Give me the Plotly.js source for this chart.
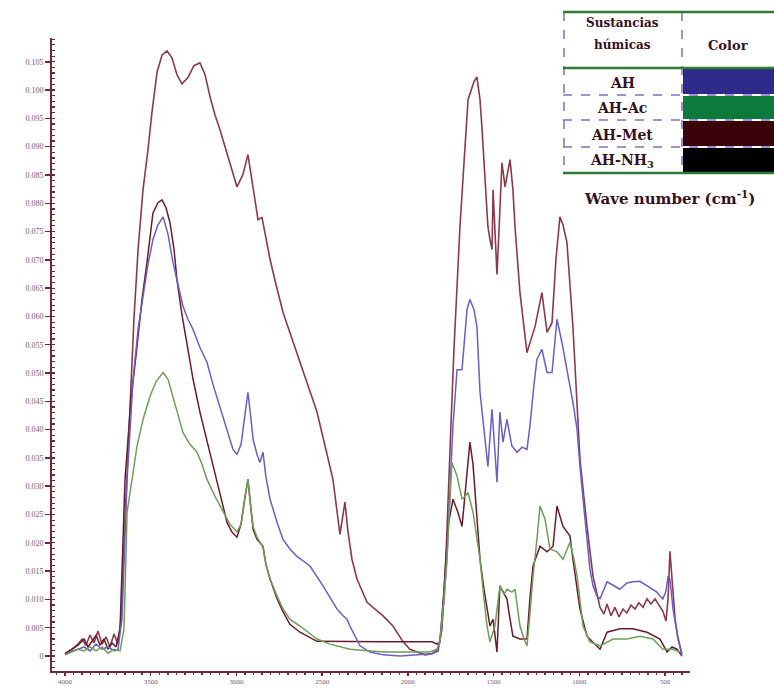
<!DOCTYPE html>
<html>
<head>
<meta charset="utf-8">
<script src="https://cdn.plot.ly/plotly-3.0.1.min.js"></script>
<style>
  html, body { margin: 0; padding: 0; background: #ffffff; }
  #chart { width: 774px; height: 689px; }
</style>
</head>
<body>
<div id="chart"></div>
<script>
// ---------- data (wavenumber cm^-1, absorbance) ----------
const wnAH = [4000,3959,3924,3889,3854,3819,3784,3749,3714,3691,3668,3638,3603,3574,3545,3516,3487,3458,3428,3399,3370,3341,3312,3283,3253,3213,3172,3137,3096,3055,3020,2997,2973,2950,2933,2915,2903,2880,2863,2845,2828,2804,2763,2728,2688,2647,2571,2495,2454,2413,2378,2355,2338,2308,2279,2221,2145,2046,1929,1859,1830,1813,1789,1772,1754,1737,1713,1684,1655,1638,1614,1597,1579,1556,1538,1533,1509,1498,1480,1463,1445,1422,1393,1363,1334,1305,1288,1264,1247,1218,1188,1159,1130,1101,1072,1037,1013,996,972,955,938,920,897,879,856,838,803,763,722,687,646,605,570,547,529,512,494,482,471,453,430,401];
const absAH = [0.0002,0.0009,0.0012,0.0016,0.0009,0.0021,0.0012,0.0016,0.0009,0.0012,0.0065,0.0312,0.0489,0.0577,0.0635,0.0692,0.0736,0.0762,0.0776,0.0745,0.0695,0.0656,0.0618,0.0595,0.0577,0.0545,0.0519,0.048,0.0441,0.0401,0.0365,0.0356,0.0374,0.0427,0.0466,0.0418,0.0383,0.0356,0.0342,0.036,0.0316,0.0277,0.0236,0.0206,0.0189,0.0176,0.0159,0.0124,0.0104,0.0083,0.0071,0.0065,0.0053,0.0034,0.0018,0.0007,0.0002,0,0.0002,0.0004,0.0012,0.0025,0.0101,0.0171,0.0295,0.0406,0.0506,0.0506,0.0612,0.063,0.0612,0.0582,0.0466,0.0401,0.0348,0.0335,0.0436,0.0383,0.0307,0.0431,0.0378,0.0418,0.0371,0.036,0.0369,0.0365,0.0406,0.048,0.0524,0.0542,0.0501,0.0501,0.0595,0.0554,0.0506,0.0448,0.0401,0.0335,0.0259,0.0201,0.0154,0.0124,0.0106,0.0101,0.0118,0.0131,0.0125,0.0118,0.0129,0.0131,0.0132,0.0124,0.0118,0.0113,0.0106,0.0101,0.0115,0.0141,0.0136,0.0083,0.0042,0];

const wnAc = [4000,3959,3924,3889,3854,3819,3784,3749,3714,3679,3656,3638,3609,3580,3545,3504,3469,3428,3399,3370,3341,3312,3271,3230,3201,3172,3125,3078,3038,2997,2973,2950,2933,2915,2903,2880,2863,2845,2828,2804,2763,2728,2688,2629,2530,2454,2338,2145,1871,1830,1813,1789,1772,1754,1743,1713,1684,1667,1649,1620,1597,1579,1556,1538,1521,1492,1463,1439,1422,1393,1375,1346,1322,1305,1288,1270,1247,1229,1200,1171,1130,1095,1054,1031,1013,978,938,879,803,722,646,570,512,453,412];
const absAc = [0.0002,0.0007,0.0012,0.0009,0.0016,0.0009,0.0016,0.0005,0.0012,0.0009,0.0048,0.0254,0.0312,0.0371,0.0418,0.0459,0.0485,0.0501,0.0489,0.0459,0.0427,0.0395,0.0374,0.036,0.0339,0.0312,0.0282,0.0254,0.0233,0.0219,0.0233,0.0281,0.0312,0.0259,0.0229,0.021,0.0201,0.0192,0.0162,0.0136,0.0106,0.0083,0.0065,0.0053,0.003,0.0021,0.0012,0.0007,0.0007,0.0012,0.0025,0.0101,0.0171,0.0277,0.0342,0.0318,0.0277,0.0282,0.0289,0.0254,0.0206,0.0171,0.0101,0.0053,0.0025,0.0053,0.0124,0.0109,0.0118,0.0113,0.0118,0.0053,0.003,0.0018,0.0074,0.0141,0.0206,0.0265,0.0242,0.0189,0.0184,0.0171,0.0201,0.0171,0.0141,0.0053,0.0025,0.0018,0.003,0.003,0.0035,0.003,0.0012,0.0012,0.0007];

const wnMet = [4000,3959,3924,3901,3878,3854,3831,3808,3784,3761,3738,3714,3691,3673,3650,3621,3598,3574,3545,3516,3493,3463,3434,3405,3376,3347,3318,3283,3248,3213,3183,3154,3125,3096,3038,2997,2962,2933,2915,2898,2874,2851,2833,2804,2769,2728,2629,2530,2437,2396,2367,2349,2326,2297,2238,2145,2087,2028,1988,1947,1900,1859,1824,1801,1778,1754,1731,1696,1667,1649,1626,1614,1597,1579,1568,1550,1533,1521,1509,1503,1492,1480,1468,1451,1433,1416,1404,1387,1375,1346,1305,1282,1258,1218,1188,1159,1136,1113,1095,1072,1037,996,955,920,879,856,838,815,792,768,745,722,698,675,652,628,605,582,558,535,512,494,482,471,459,441,424,401];
const absMet = [0.0004,0.0012,0.0021,0.003,0.0019,0.0037,0.0023,0.0044,0.0021,0.0034,0.0016,0.0039,0.0021,0.0065,0.0242,0.0454,0.0595,0.0718,0.0824,0.0895,0.096,0.1032,0.1062,0.1069,0.1057,0.1027,0.1011,0.1022,0.1043,0.1048,0.1027,0.0988,0.0956,0.093,0.0872,0.0829,0.0851,0.0886,0.0851,0.0815,0.0771,0.0775,0.0745,0.0701,0.0656,0.0607,0.0519,0.0431,0.0312,0.0215,0.0272,0.0219,0.0171,0.0136,0.0095,0.0071,0.0053,0.0025,0.0012,0.0007,0.0002,0.0004,0.0009,0.0048,0.0171,0.0365,0.0542,0.0759,0.0907,0.0983,0.1004,0.1015,0.1023,0.0983,0.0935,0.0847,0.0759,0.0736,0.0718,0.0824,0.0754,0.0674,0.0754,0.0872,0.0829,0.0859,0.0877,0.0824,0.0759,0.0642,0.0536,0.0559,0.0582,0.0642,0.0572,0.0589,0.0701,0.0776,0.0762,0.0731,0.0582,0.0348,0.0229,0.0141,0.0086,0.0074,0.0092,0.0071,0.0086,0.0069,0.0083,0.0076,0.009,0.0083,0.0094,0.0086,0.0101,0.0092,0.0101,0.009,0.0079,0.0062,0.0101,0.0185,0.0136,0.0065,0.003,0.0004];

const wnNH3 = [4000,3959,3924,3889,3866,3843,3819,3796,3773,3749,3726,3703,3679,3650,3615,3580,3551,3522,3487,3458,3434,3411,3388,3364,3347,3318,3288,3253,3213,3166,3113,3084,3055,3026,2997,2973,2950,2933,2915,2903,2880,2863,2845,2828,2804,2763,2728,2688,2629,2530,2338,2145,1947,1859,1830,1813,1789,1766,1737,1708,1684,1655,1638,1620,1608,1579,1556,1538,1521,1503,1480,1463,1439,1422,1404,1387,1346,1305,1288,1270,1229,1188,1153,1130,1095,1054,1037,1013,996,955,920,879,838,763,687,605,529,488,459,430,401];
const absNH3 = [0.0004,0.0012,0.0019,0.003,0.0016,0.0026,0.0037,0.0019,0.003,0.0012,0.0023,0.0016,0.0048,0.0312,0.0454,0.0547,0.063,0.0695,0.0783,0.0801,0.0806,0.0792,0.0766,0.0718,0.0665,0.0603,0.0547,0.0489,0.0431,0.0374,0.0312,0.0272,0.0236,0.0219,0.021,0.0233,0.0281,0.0312,0.0259,0.0224,0.0206,0.0201,0.0194,0.0162,0.0136,0.0101,0.0078,0.0056,0.0042,0.0026,0.0025,0.0025,0.0025,0.0025,0.0021,0.0025,0.0118,0.0229,0.0277,0.0254,0.0229,0.0318,0.0378,0.0339,0.0289,0.0171,0.0118,0.0083,0.0053,0.0065,0.0007,0.0124,0.0109,0.0101,0.0065,0.0035,0.003,0.003,0.0101,0.0159,0.0194,0.0184,0.0194,0.0265,0.0229,0.0212,0.0171,0.0118,0.0083,0.0035,0.0025,0.0012,0.0042,0.0048,0.0048,0.0042,0.003,0.0007,0.0016,0.0012,0];

const yTickVals = [0,0.005,0.010,0.015,0.020,0.025,0.030,0.035,0.040,0.045,0.050,0.055,0.060,0.065,0.070,0.075,0.080,0.085,0.090,0.095,0.100,0.105];
const yTickText = ['0','0.005','0.010','0.015','0.020','0.025','0.030','0.035','0.040','0.045','0.050','0.055','0.060','0.065','0.070','0.075','0.080','0.085','0.090','0.095','0.100','0.105'];
const xTickVals = [4000,3500,3000,2500,2000,1500,1000,500];
const xTickText = ['4000','3500','3000','2500','2000','1500','1000','500'];

const tableHeader = ['Sustancias', 'húmicas', 'Color'];
const tableNames = ['AH', 'AH-Ac', 'AH-Met', 'AH-NH<sub>3</sub>'];
const tableColors = ['#2d2a8a', '#0b7a3b', '#3a0309', '#000000'];
const xTitle = 'Wave number (cm<sup>-1</sup>)';

// ---------- layout helpers (pixel -> paper) ----------
const L = 52, R = 690, T = 38, B = 671;
const px = x => (x - L) / (R - L);
const py = y => (B - y) / (B - T);

const traces = [
  { x: wnMet, y: absMet, name: 'AH-Met', line: { color: '#8a3a4c', width: 1.6 } },
  { x: wnNH3, y: absNH3, name: 'AH-NH3', line: { color: '#6a1c2a', width: 1.5 } },
  { x: wnAH,  y: absAH,  name: 'AH',     line: { color: '#6a5ec6', width: 1.5 } },
  { x: wnAc,  y: absAc,  name: 'AH-Ac',  line: { color: '#6f9e5a', width: 1.5 } }
].map(t => Object.assign({ type: 'scatter', mode: 'lines', hoverinfo: 'skip' }, t));

// table shapes
const rowEdges = [68, 95, 120, 147, 173];
const shapes = [];
tableColors.forEach((c, i) => {
  shapes.push({ type: 'rect', xref: 'paper', yref: 'paper',
    x0: px(683), x1: px(780), y0: py(rowEdges[i + 1] - 1), y1: py(rowEdges[i] + 1),
    fillcolor: c, line: { width: 0 } });
});
[95, 120, 147].forEach(y => shapes.push({ type: 'line', xref: 'paper', yref: 'paper',
  x0: px(563), x1: px(780), y0: py(y), y1: py(y),
  line: { color: '#7f70c4', width: 1.5, dash: 'dash' } }));
[564, 682].forEach(x => shapes.push({ type: 'line', xref: 'paper', yref: 'paper',
  x0: px(x), x1: px(x), y0: py(12), y1: py(173),
  line: { color: '#7f70c4', width: 1.5, dash: 'dash' } }));
[12, 68, 173].forEach(y => shapes.push({ type: 'line', xref: 'paper', yref: 'paper',
  x0: px(563), x1: px(780), y0: py(y), y1: py(y),
  line: { color: '#2f7a36', width: 2.5 } }));

const tFont = { family: 'DejaVu Serif', size: 14, color: '#33121e' };
const bold = s => '<b>' + s + '</b>';
const annotations = [
  { text: bold(tableHeader[0]), x: px(622), y: py(23), font: Object.assign({}, tFont, { size: 12 }) },
  { text: bold(tableHeader[1]), x: px(622), y: py(45), font: Object.assign({}, tFont, { size: 12 }) },
  { text: bold(tableHeader[2]), x: px(728), y: py(45), font: Object.assign({}, tFont, { size: 13 }) },
  { text: bold(xTitle), x: px(582), y: py(198), xanchor: 'left', font: Object.assign({}, tFont, { size: 15 }) }
];
tableNames.forEach((n, i) => annotations.push({
  text: bold(n), x: px(622), y: py((rowEdges[i] + rowEdges[i + 1]) / 2 + 1), font: tFont }));
annotations.forEach(a => Object.assign(a, { xref: 'paper', yref: 'paper', showarrow: false,
  xanchor: a.xanchor || 'center', yanchor: 'middle' }));

const axisColor = '#6e2a3a';
const tickFont = { family: 'Liberation Serif', size: 8, color: '#7a5a6c' };

const layout = {
  width: 774, height: 689, autosize: false,
  margin: { l: L, r: 774 - R, t: T, b: 689 - B, pad: 0 },
  paper_bgcolor: '#ffffff', plot_bgcolor: '#ffffff',
  showlegend: false,
  xaxis: {
    range: [4076, 354], showgrid: false, zeroline: false,
    showline: true, linecolor: axisColor, linewidth: 2,
    tickmode: 'array', tickvals: xTickVals, ticktext: xTickText,
    ticks: 'outside', ticklen: 3, tickwidth: 1.5, tickcolor: axisColor,
    tickfont: { family: 'Liberation Serif', size: 7, color: '#7a5a6c' },
    minor: { dtick: 50, ticks: 'outside', ticklen: 2, tickwidth: 1.5, tickcolor: axisColor, showgrid: false }
  },
  yaxis: {
    range: [-0.00265, 0.1092], showgrid: false, zeroline: false,
    showline: true, linecolor: axisColor, linewidth: 2,
    tickmode: 'array', tickvals: yTickVals, ticktext: yTickText,
    ticks: 'outside', ticklen: 5, tickwidth: 1.5, tickcolor: axisColor,
    tickfont: tickFont,
    minor: { dtick: 0.001, ticks: 'inside', ticklen: 3, tickwidth: 1.2, tickcolor: axisColor, showgrid: false }
  },
  shapes: shapes,
  annotations: annotations
};

Plotly.newPlot('chart', traces, layout, { staticPlot: true, displayModeBar: false });
</script>
</body>
</html>
